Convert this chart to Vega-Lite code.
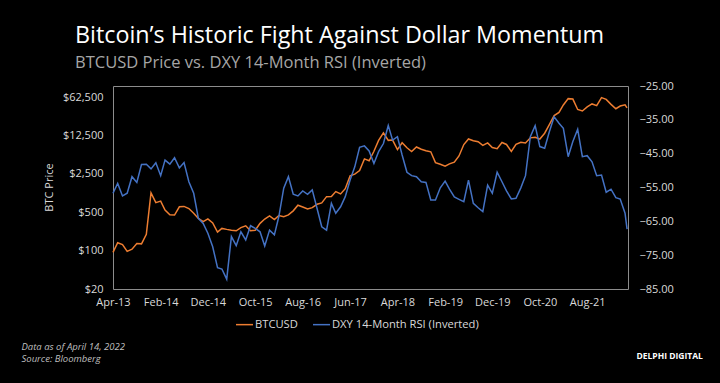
{
  "$schema": "https://vega.github.io/schema/vega-lite/v6.json",
  "width": 515,
  "height": 203,
  "autosize": {"type": "none"},
  "padding": {"left": 113, "top": 86, "right": 92, "bottom": 94},
  "background": "#000000",
  "title": {
    "text": "Bitcoin’s Historic Fight Against Dollar Momentum",
    "subtitle": "BTCUSD Price vs. DXY 14-Month RSI (Inverted)",
    "anchor": "start",
    "frame": "group",
    "dx": -38,
    "offset": 8,
    "font": "Open Sans",
    "fontSize": 23.3,
    "fontWeight": "normal",
    "color": "#ffffff",
    "subtitleFont": "Open Sans",
    "subtitleFontSize": 16.5,
    "subtitleColor": "#a6a6a6",
    "subtitlePadding": 6
  },
  "config": {
    "view": {"stroke": "#8c8c8c", "strokeWidth": 1},
    "axis": {
      "grid": false,
      "ticks": false,
      "domain": false,
      "labelColor": "#d9d9d9",
      "labelFont": "Open Sans",
      "labelFontSize": 11,
      "titleFont": "Open Sans",
      "titleColor": "#d9d9d9",
      "titleFontWeight": "normal"
    },
    "legend": {
      "labelFont": "Open Sans",
      "labelFontSize": 11.2,
      "labelColor": "#d9d9d9"
    }
  },
  "data": {
    "values": [
      {"date": "2013-04-01", "btc": 93, "dxy": -56.7},
      {"date": "2013-05-01", "btc": 139, "dxy": -53.8},
      {"date": "2013-06-01", "btc": 129, "dxy": -57.5},
      {"date": "2013-07-01", "btc": 97, "dxy": -56.7},
      {"date": "2013-08-01", "btc": 106, "dxy": -51.8},
      {"date": "2013-09-01", "btc": 135, "dxy": -53.5},
      {"date": "2013-10-01", "btc": 133, "dxy": -48.2},
      {"date": "2013-11-01", "btc": 198, "dxy": -48.1},
      {"date": "2013-12-01", "btc": 1130, "dxy": -49.5},
      {"date": "2014-01-01", "btc": 750, "dxy": -47.7},
      {"date": "2014-02-01", "btc": 800, "dxy": -51.5},
      {"date": "2014-03-01", "btc": 550, "dxy": -46.9},
      {"date": "2014-04-01", "btc": 450, "dxy": -48.1},
      {"date": "2014-05-01", "btc": 445, "dxy": -46.2},
      {"date": "2014-06-01", "btc": 630, "dxy": -49.2},
      {"date": "2014-07-01", "btc": 640, "dxy": -47.6},
      {"date": "2014-08-01", "btc": 585, "dxy": -53.3},
      {"date": "2014-09-01", "btc": 480, "dxy": -56.7},
      {"date": "2014-10-01", "btc": 386, "dxy": -64.1},
      {"date": "2014-11-01", "btc": 338, "dxy": -65.6},
      {"date": "2014-12-01", "btc": 378, "dxy": -68.5},
      {"date": "2015-01-01", "btc": 320, "dxy": -72.5},
      {"date": "2015-02-01", "btc": 218, "dxy": -78.7},
      {"date": "2015-03-01", "btc": 254, "dxy": -79.1},
      {"date": "2015-04-01", "btc": 244, "dxy": -82.1},
      {"date": "2015-05-01", "btc": 236, "dxy": -69.5},
      {"date": "2015-06-01", "btc": 230, "dxy": -72.2},
      {"date": "2015-07-01", "btc": 263, "dxy": -68.1},
      {"date": "2015-08-01", "btc": 284, "dxy": -70.5},
      {"date": "2015-09-01", "btc": 230, "dxy": -66.3},
      {"date": "2015-10-01", "btc": 236, "dxy": -67.1},
      {"date": "2015-11-01", "btc": 314, "dxy": -68.1},
      {"date": "2015-12-01", "btc": 377, "dxy": -72.3},
      {"date": "2016-01-01", "btc": 430, "dxy": -67.6},
      {"date": "2016-02-01", "btc": 368, "dxy": -69.0},
      {"date": "2016-03-01", "btc": 437, "dxy": -63.5},
      {"date": "2016-04-01", "btc": 416, "dxy": -55.2},
      {"date": "2016-05-01", "btc": 448, "dxy": -51.8},
      {"date": "2016-06-01", "btc": 531, "dxy": -57.0},
      {"date": "2016-07-01", "btc": 673, "dxy": -57.5},
      {"date": "2016-08-01", "btc": 624, "dxy": -56.0},
      {"date": "2016-09-01", "btc": 575, "dxy": -57.0},
      {"date": "2016-10-01", "btc": 608, "dxy": -55.7},
      {"date": "2016-11-01", "btc": 700, "dxy": -61.2},
      {"date": "2016-12-01", "btc": 742, "dxy": -66.6},
      {"date": "2017-01-01", "btc": 963, "dxy": -67.6},
      {"date": "2017-02-01", "btc": 970, "dxy": -59.7},
      {"date": "2017-03-01", "btc": 1190, "dxy": -62.6},
      {"date": "2017-04-01", "btc": 1080, "dxy": -60.7},
      {"date": "2017-05-01", "btc": 1348, "dxy": -57.7},
      {"date": "2017-06-01", "btc": 2300, "dxy": -52.8},
      {"date": "2017-07-01", "btc": 2480, "dxy": -48.9},
      {"date": "2017-08-01", "btc": 2875, "dxy": -43.1},
      {"date": "2017-09-01", "btc": 4700, "dxy": -42.7},
      {"date": "2017-10-01", "btc": 4340, "dxy": -44.2},
      {"date": "2017-11-01", "btc": 6470, "dxy": -47.9},
      {"date": "2017-12-01", "btc": 10200, "dxy": -44.4},
      {"date": "2018-01-01", "btc": 14000, "dxy": -42.0},
      {"date": "2018-02-01", "btc": 10220, "dxy": -36.7},
      {"date": "2018-03-01", "btc": 10330, "dxy": -41.0},
      {"date": "2018-04-01", "btc": 6930, "dxy": -40.0},
      {"date": "2018-05-01", "btc": 9240, "dxy": -45.4},
      {"date": "2018-06-01", "btc": 7500, "dxy": -50.5},
      {"date": "2018-07-01", "btc": 6400, "dxy": -51.5},
      {"date": "2018-08-01", "btc": 7730, "dxy": -51.8},
      {"date": "2018-09-01", "btc": 7030, "dxy": -53.3},
      {"date": "2018-10-01", "btc": 6630, "dxy": -53.5},
      {"date": "2018-11-01", "btc": 6320, "dxy": -58.7},
      {"date": "2018-12-01", "btc": 4020, "dxy": -58.7},
      {"date": "2019-01-01", "btc": 3740, "dxy": -55.1},
      {"date": "2019-02-01", "btc": 3460, "dxy": -53.1},
      {"date": "2019-03-01", "btc": 3810, "dxy": -55.5},
      {"date": "2019-04-01", "btc": 4100, "dxy": -57.8},
      {"date": "2019-05-01", "btc": 5320, "dxy": -58.5},
      {"date": "2019-06-01", "btc": 8570, "dxy": -59.2},
      {"date": "2019-07-01", "btc": 10820, "dxy": -52.8},
      {"date": "2019-08-01", "btc": 10080, "dxy": -59.7},
      {"date": "2019-09-01", "btc": 9630, "dxy": -61.0},
      {"date": "2019-10-01", "btc": 8290, "dxy": -62.1},
      {"date": "2019-11-01", "btc": 9200, "dxy": -54.3},
      {"date": "2019-12-01", "btc": 7570, "dxy": -56.7},
      {"date": "2020-01-01", "btc": 7200, "dxy": -50.5},
      {"date": "2020-02-01", "btc": 9350, "dxy": -53.3},
      {"date": "2020-03-01", "btc": 8600, "dxy": -56.0},
      {"date": "2020-04-01", "btc": 6440, "dxy": -58.4},
      {"date": "2020-05-01", "btc": 8660, "dxy": -58.2},
      {"date": "2020-06-01", "btc": 9460, "dxy": -55.1},
      {"date": "2020-07-01", "btc": 9140, "dxy": -51.5},
      {"date": "2020-08-01", "btc": 11350, "dxy": -40.0},
      {"date": "2020-09-01", "btc": 11650, "dxy": -36.7},
      {"date": "2020-10-01", "btc": 10780, "dxy": -42.9},
      {"date": "2020-11-01", "btc": 13800, "dxy": -43.4},
      {"date": "2020-12-01", "btc": 19700, "dxy": -38.5},
      {"date": "2021-01-01", "btc": 29000, "dxy": -34.1},
      {"date": "2021-02-01", "btc": 33100, "dxy": -36.0},
      {"date": "2021-03-01", "btc": 45200, "dxy": -37.5},
      {"date": "2021-04-01", "btc": 58800, "dxy": -45.9},
      {"date": "2021-05-01", "btc": 57800, "dxy": -41.4},
      {"date": "2021-06-01", "btc": 37300, "dxy": -37.8},
      {"date": "2021-07-01", "btc": 35000, "dxy": -45.9},
      {"date": "2021-08-01", "btc": 41600, "dxy": -45.6},
      {"date": "2021-09-01", "btc": 47100, "dxy": -47.4},
      {"date": "2021-10-01", "btc": 43800, "dxy": -51.5},
      {"date": "2021-11-01", "btc": 61300, "dxy": -51.3},
      {"date": "2021-12-01", "btc": 57000, "dxy": -56.4},
      {"date": "2022-01-01", "btc": 46300, "dxy": -55.5},
      {"date": "2022-02-01", "btc": 38500, "dxy": -58.0},
      {"date": "2022-03-01", "btc": 43200, "dxy": -58.4},
      {"date": "2022-04-01", "btc": 45500, "dxy": -62.6},
      {"date": "2022-04-14", "btc": 40000, "dxy": -67.3}
    ]
  },
  "encoding": {
    "x": {
      "field": "date",
      "type": "temporal",
      "scale": {"type": "utc", "domain": ["2013-04-01", "2022-04-20"]},
      "axis": {
        "values": ["2013-04-01", "2014-02-01", "2014-12-01", "2015-10-01", "2016-08-01", "2017-06-01", "2018-04-01", "2019-02-01", "2019-12-01", "2020-10-01", "2021-08-01"],
        "labelExpr": "utcFormat(datum.value, '%b-%y')",
        "labelPadding": 7,
        "labelFlush": false,
        "labelOverlap": false,
        "title": ["Data as of April 14, 2022", "Source: Bloomberg"],
        "titleAnchor": "start",
        "titleAlign": "left",
        "titleBaseline": "top",
        "titleX": -92,
        "titleY": 52,
        "titleFontSize": 9.5,
        "titleFontStyle": "italic",
        "titleLineHeight": 12,
        "titleColor": "#bfbfbf"
      }
    }
  },
  "layer": [
    {
      "mark": {"type": "line", "strokeWidth": 1.5},
      "encoding": {
        "y": {
          "field": "btc",
          "type": "quantitative",
          "scale": {"type": "log", "domain": [20, 100000], "nice": false},
          "axis": {
            "orient": "left",
            "values": [20, 100, 500, 2500, 12500, 62500],
            "format": "$,d",
            "labelPadding": 10,
            "title": "BTC Price",
            "titleFontSize": 11,
            "titleAngle": -90,
            "titleX": -64,
            "titleY": 101,
            "titleAlign": "center",
            "titleBaseline": "middle"
          }
        },
        "color": {
          "datum": "BTCUSD",
          "type": "nominal",
          "scale": {"domain": ["BTCUSD", "DXY 14-Month RSI (Inverted)"], "range": ["#ED7D31", "#4472C4"]},
          "legend": {
            "orient": "none",
            "legendX": 122,
            "legendY": 229,
            "direction": "horizontal",
            "title": null,
            "symbolType": "stroke",
            "symbolSize": 289,
            "symbolStrokeWidth": 1.5,
            "labelOffset": 1,
            "columnPadding": 12
          }
        }
      }
    },
    {
      "mark": {"type": "line", "strokeWidth": 1.5},
      "encoding": {
        "y": {
          "field": "dxy",
          "type": "quantitative",
          "scale": {"domain": [-85, -25], "nice": false, "zero": false},
          "axis": {
            "orient": "right",
            "values": [-25, -35, -45, -55, -65, -75, -85],
            "format": ".2f",
            "labelPadding": 11,
            "title": "DELPHI DIGITAL",
            "titleAngle": 0,
            "titleX": 8,
            "titleY": 269,
            "titleAlign": "left",
            "titleBaseline": "middle",
            "titleFontSize": 8.5,
            "titleFontWeight": "bold",
            "titleColor": "#ffffff"
          }
        },
        "color": {"datum": "DXY 14-Month RSI (Inverted)", "type": "nominal"}
      }
    }
  ],
  "resolve": {"scale": {"y": "independent"}}
}
